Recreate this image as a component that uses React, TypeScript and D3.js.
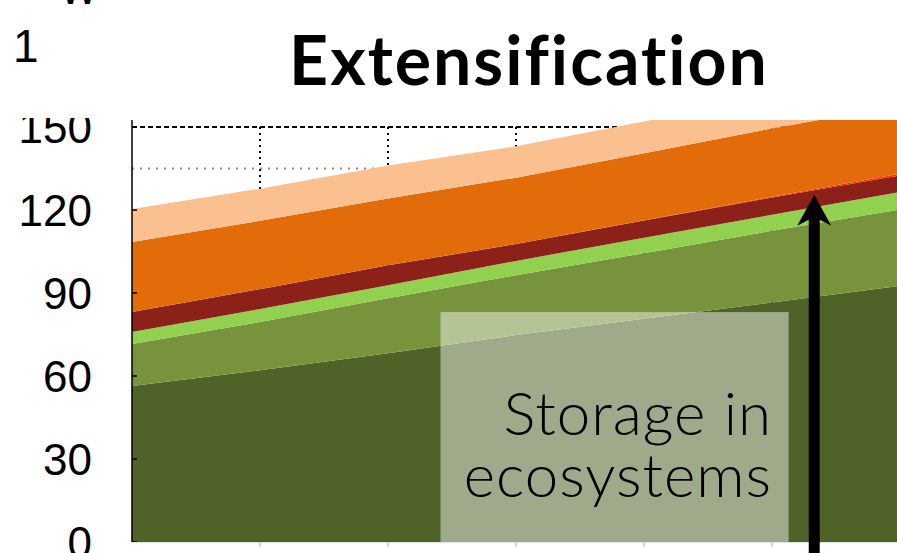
import React, { useRef, useEffect } from 'react';
import * as d3 from 'd3';

// stacked bands, bottom to top, one value per year
const years = [2000, 2010, 2020, 2030, 2040, 2050, 2060];
const darkGreen = [56.4, 62.1, 68.2, 74.8, 80.7, 86.6, 92.6];
const midGreen = [15.2, 17.4, 19.9, 21.6, 23.7, 25.9, 27.6];
const lightGreen = [4.3, 4.7, 4.7, 5.2, 5.6, 5.8, 6.3];
const darkRed = [7.2, 7.2, 7.2, 6.1, 6.2, 6.2, 6.0];
const redLine = [0, 0, 0, 0, 0.1, 0.3, 0.6];
const orange = [25.3, 24.7, 24.2, 24.0, 24.2, 24.7, 24.7];
const lightOrange = [12.0, 11.6, 11.9, 11.3, 11.5, 11.5, 11.2];

const yTicks = [0, 30, 60, 90, 120, 150];
const xTicks = [2010, 2020, 2030, 2040, 2050];

const keys = ['darkGreen', 'midGreen', 'lightGreen', 'darkRed', 'redLine', 'orange', 'lightOrange'];
const colors = ['#4f6228', '#77933c', '#92d050', '#8c2119', '#ff2a00', '#e36c0a', '#fac090'];

const W = 897;
const H = 553;

const App = () => {
    const ref = useRef(null);

    useEffect(() => {
        const svg = d3.select(ref.current);
        svg.selectAll('*').remove();

        const table = years.map((year, i) => ({
            year,
            darkGreen: darkGreen[i],
            midGreen: midGreen[i],
            lightGreen: lightGreen[i],
            darkRed: darkRed[i],
            redLine: redLine[i],
            orange: orange[i],
            lightOrange: lightOrange[i],
        }));

        const x = d3.scaleLinear().domain([2000, 2060]).range([132, 900]);
        const y = d3.scaleLinear().domain([0, 150]).range([542, 127]);
        const plotTop = 120;

        svg.append('defs').append('clipPath').attr('id', 'plot-clip')
            .append('rect')
            .attr('x', x(2000)).attr('y', plotTop)
            .attr('width', W - x(2000)).attr('height', y(0) - plotTop);

        // grid
        const grid = svg.append('g');
        grid.append('line')
            .attr('x1', x(2000)).attr('x2', W)
            .attr('y1', y(135)).attr('y2', y(135))
            .attr('stroke', '#888').attr('stroke-width', 2)
            .attr('stroke-dasharray', '2,6');
        grid.selectAll('.vg').data(xTicks).join('line')
            .attr('x1', d => x(d)).attr('x2', d => x(d))
            .attr('y1', y(150)).attr('y2', y(0))
            .attr('stroke', '#000').attr('stroke-width', 2)
            .attr('stroke-dasharray', '2,4');
        grid.append('line')
            .attr('x1', x(2000)).attr('x2', W)
            .attr('y1', y(150)).attr('y2', y(150))
            .attr('stroke', '#000').attr('stroke-width', 2)
            .attr('stroke-dasharray', '5,3');

        // stacked areas
        const series = d3.stack().keys(keys)(table);
        const area = d3.area()
            .x(d => x(d.data.year))
            .y0(d => y(d[0]))
            .y1(d => y(d[1]));

        svg.append('g').attr('clip-path', 'url(#plot-clip)')
            .selectAll('path').data(series).join('path')
            .attr('fill', (d, i) => colors[i])
            .attr('d', area);

        // y axis
        svg.append('line')
            .attr('x1', x(2000)).attr('x2', x(2000))
            .attr('y1', plotTop).attr('y2', y(0))
            .attr('stroke', '#000').attr('stroke-width', 1.5);
        svg.selectAll('.yt').data(yTicks).join('line')
            .attr('x1', x(2000)).attr('x2', x(2000) + 5)
            .attr('y1', d => y(d)).attr('y2', d => y(d))
            .attr('stroke', '#000').attr('stroke-width', 1.5);
        svg.append('g')
            .selectAll('text').data(yTicks).join('text')
            .attr('x', 92).attr('y', d => y(d)).attr('dy', '0.36em')
            .attr('text-anchor', 'end')
            .attr('font-family', '"Liberation Sans", Arial, sans-serif')
            .attr('font-size', 44)
            .text(d => d);

        // x axis (faint)
        svg.append('line')
            .attr('x1', x(2000)).attr('x2', W)
            .attr('y1', y(0) + 0.5).attr('y2', y(0) + 0.5)
            .attr('stroke', '#e4e4e4').attr('stroke-width', 1);
        svg.selectAll('.xt').data(xTicks).join('line')
            .attr('x1', d => x(d)).attr('x2', d => x(d))
            .attr('y1', y(0)).attr('y2', y(0) + 5)
            .attr('stroke', '#c8c8c8').attr('stroke-width', 1.5);

        // mask over the cropped top of the "150" label
        svg.append('rect')
            .attr('x', 0).attr('y', 64).attr('width', x(2000) - 2).attr('height', plotTop - 2 - 64)
            .attr('fill', '#fff');

        // remnants of the panel above
        svg.append('text')
            .attr('x', 13).attr('y', 62)
            .attr('font-family', '"Liberation Sans", Arial, sans-serif')
            .attr('font-size', 46)
            .text('1');
        svg.append('text')
            .attr('x', 79).attr('y', 4).attr('text-anchor', 'middle')
            .attr('font-family', '"Liberation Sans", Arial, sans-serif')
            .attr('font-size', 40)
            .text('W');

        // title
        svg.append('text')
            .attr('x', 529).attr('y', 85).attr('text-anchor', 'middle')
            .attr('font-family', 'Lato, sans-serif')
            .attr('font-weight', 'bold')
            .attr('font-size', 68)
            .attr('letter-spacing', 2)
            .style('font-variant-ligatures', 'none')
            .text('Extensification');

        // annotation box
        svg.append('rect')
            .attr('x', x(2024.1)).attr('y', y(83.1))
            .attr('width', x(2051.3) - x(2024.1)).attr('height', y(0) - y(83.1))
            .attr('fill', '#fff').attr('fill-opacity', 0.46);

        const label = svg.append('text')
            .attr('text-anchor', 'end')
            .attr('font-family', 'Lato, sans-serif')
            .attr('font-weight', 300)
            .attr('font-size', 60)
            .attr('letter-spacing', 1)
            .attr('fill', '#000');
        label.append('tspan').attr('x', 772).attr('y', 435).text('Storage in');
        label.append('tspan').attr('x', 772).attr('y', 497).text('ecosystems');

        // arrow
        const ax = x(2053.3);
        const tip = y(125.5);
        svg.append('line')
            .attr('x1', ax).attr('x2', ax)
            .attr('y1', H + 5).attr('y2', tip + 20)
            .attr('stroke', '#000').attr('stroke-width', 11);
        svg.append('path')
            .attr('d', `M${ax},${tip} L${ax + 17},${tip + 31} L${ax},${tip + 22} L${ax - 17},${tip + 31} Z`)
            .attr('fill', '#000');
    }, []);

    return (
        <svg
            ref={ref}
            width={W}
            height={H}
            style={{ position: 'absolute', left: 0, top: 0, background: '#fff' }}
        />
    );
};

export default App;
